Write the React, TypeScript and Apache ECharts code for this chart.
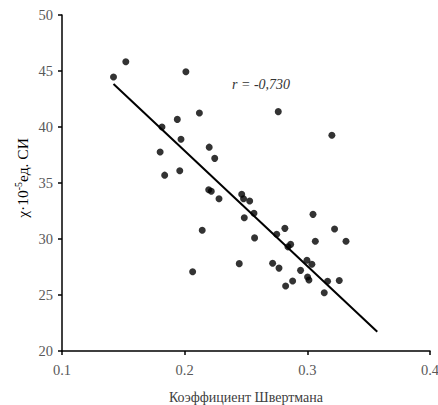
import React, { useEffect, useRef } from "react";
import * as echarts from "echarts";

const xValues = [0.142, 0.152, 0.201, 0.212, 0.194, 0.1815, 0.197, 0.22, 0.2245, 0.18, 0.196, 0.1837, 0.2196, 0.2217, 0.228, 0.2143, 0.2065, 0.2763, 0.32, 0.2465, 0.248, 0.253, 0.2565, 0.2486, 0.257, 0.2445, 0.2717, 0.2769, 0.275, 0.2817, 0.2864, 0.2842, 0.3046, 0.3065, 0.3222, 0.3315, 0.2997, 0.3037, 0.2945, 0.3002, 0.3013, 0.288, 0.2823, 0.3165, 0.326, 0.3138];
const yValues = [44.46, 45.83, 44.94, 41.25, 40.68, 40.0, 38.9, 38.2, 37.2, 37.77, 36.1, 35.7, 34.4, 34.27, 33.6, 30.78, 27.08, 41.37, 39.26, 34.0, 33.6, 33.4, 32.3, 31.9, 30.1, 27.8, 27.83, 27.4, 30.42, 30.95, 29.52, 29.3, 32.2, 29.8, 30.9, 29.8, 28.1, 27.74, 27.2, 26.6, 26.34, 26.25, 25.8, 26.22, 26.3, 25.2];
const trendX = [0.142, 0.357];
const trendY = [43.84, 21.72];
const xTicks = [0.1, 0.2, 0.3, 0.4];
const yTicks = [20, 25, 30, 35, 40, 45, 50];
const rLabel = "r = -0,730";
const xTitle = "Коэффициент Швертмана";

export default function App() {
  const ref = useRef<HTMLDivElement>(null);
  useEffect(() => {
    if (!ref.current) return;
    const chart = echarts.init(ref.current, null, { renderer: "svg" });
    const font = "Liberation Serif";
    chart.setOption({
      animation: false,
      backgroundColor: "#ffffff",
      textStyle: { fontFamily: font },
      grid: { left: 62, right: 8, top: 15, bottom: 54, containLabel: false, outerBoundsMode: "none" },
      xAxis: {
        type: "value",
        min: xTicks[0],
        max: xTicks[xTicks.length - 1],
        interval: 0.1,
        name: xTitle,
        nameLocation: "middle",
        nameGap: 39,
        nameTextStyle: { fontFamily: font, fontSize: 14, color: "#404040" },
        axisLine: { lineStyle: { color: "#000", width: 1.5 } },
        axisTick: { show: true, inside: false, length: 4, lineStyle: { color: "#000", width: 1.5 } },
        axisLabel: { fontFamily: font, fontSize: 14.5, color: "#595959", margin: 11, formatter: (v: number) => v.toFixed(1) },
        splitLine: { show: false },
      },
      yAxis: {
        type: "value",
        min: yTicks[0],
        max: yTicks[yTicks.length - 1],
        interval: 5,
        axisLine: { show: true, lineStyle: { color: "#000", width: 1.5 } },
        axisTick: { show: true, inside: false, length: 4, lineStyle: { color: "#000", width: 1.5 } },
        axisLabel: { fontFamily: font, fontSize: 14.5, color: "#595959", margin: 9 },
        splitLine: { show: false },
      },
      graphic: [
        {
          type: "text",
          left: 232,
          top: 77,
          style: { text: rLabel, fontFamily: font, fontStyle: "italic", fontSize: 14, fill: "#333" },
        },
        {
          type: "text",
          x: 22,
          y: 178,
          rotation: Math.PI / 2,
          style: {
            text: "{a|χ·10}{sup|-5}{a|ед. СИ}",
            align: "center",
            verticalAlign: "middle",
            textAlign: "center",
            textVerticalAlign: "middle",
            fill: "#000",
            rich: {
              a: { fontFamily: font, fontSize: 15.5, fill: "#000", color: "#000" },
              sup: { fontFamily: font, fontSize: 10, fill: "#000", color: "#000", verticalAlign: "top", padding: [0, 0, 7, 0] },
            },
          },
        },
      ],
      series: [
        {
          type: "scatter",
          symbol: "circle",
          symbolSize: 7,
          itemStyle: { color: "#000" },
          data: xValues.map((x, i) => [x, yValues[i]]),
        },
        {
          type: "line",
          symbol: "none",
          lineStyle: { color: "#000", width: 2 },
          data: trendX.map((x, i) => [x, trendY[i]]),
        },
      ],
    });
    return () => chart.dispose();
  }, []);
  return <div ref={ref} style={{ width: 438, height: 405, position: "absolute", left: 0, top: 0 }} />;
}
